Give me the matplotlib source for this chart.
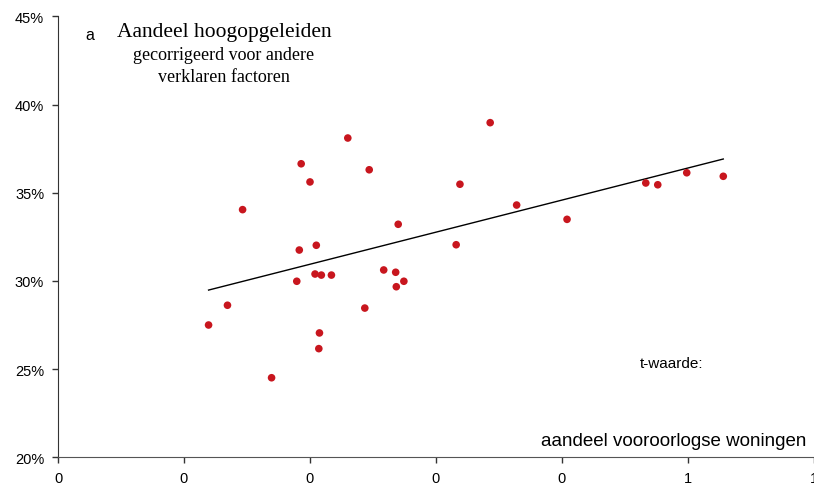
import matplotlib
matplotlib.use("Agg")
import matplotlib.pyplot as plt

# share of pre-war dwellings vs share of highly educated (corrected)
x_vals = [0.239, 0.269, 0.293, 0.339, 0.379, 0.383, 0.386, 0.400, 0.410, 0.408,
          0.418, 0.415, 0.414, 0.434, 0.460, 0.487, 0.494, 0.517, 0.536, 0.537,
          0.540, 0.549, 0.632, 0.638, 0.686, 0.728, 0.808, 0.933, 0.952, 0.998,
          1.056]
y_vals = [27.50, 28.62, 34.04, 24.51, 29.98, 31.75, 36.64, 35.61, 32.02, 30.39,
          30.33, 27.05, 26.16, 30.33, 38.10, 28.46, 36.30, 30.62, 30.49, 29.67,
          33.21, 29.98, 32.05, 35.48, 38.97, 34.30, 33.49, 35.55, 35.45, 36.13,
          35.93]

trend_x = [0.239, 1.056]
trend_y = [29.48, 36.91]

x_ticks = [0, 0.2, 0.4, 0.6, 0.8, 1.0, 1.2]
x_tick_labels = ["0", "0", "0", "0", "0", "1", "1"]
y_ticks = [20, 25, 30, 35, 40, 45]
y_tick_labels = ["20%", "25%", "30%", "35%", "40%", "45%"]

SANS = ["Liberation Sans", "DejaVu Sans"]
SERIF = ["Liberation Serif", "DejaVu Serif"]
RED = "#c8161e"

fig = plt.figure(figsize=(8.14, 4.89), dpi=100)
ax = fig.add_axes([58 / 814, 1 - 458.3 / 489, (814 - 58) / 814, (458.3 - 17.3) / 489])

ax.plot(trend_x, trend_y, color="black", linewidth=1.0, zorder=2)
ax.scatter(x_vals, y_vals, s=30, color=RED, edgecolors="none", zorder=3)

ax.set_xlim(0, 1.2)
ax.set_ylim(20, 45)
ax.set_xticks(x_ticks)
ax.set_xticklabels(x_tick_labels, family=SANS, fontsize=10.5)
ax.set_yticks(y_ticks)
ax.set_yticklabels(y_tick_labels, family=SANS, fontsize=10.5)

ax.spines["top"].set_visible(False)
ax.spines["right"].set_visible(False)
ax.spines["left"].set_color("#333333")
ax.spines["bottom"].set_color("#555555")
ax.tick_params(axis="both", direction="out", length=4, width=1, color="#333333", pad=6)

fig.text(90 / 814, 1 - 36 / 489, "a", family=SANS, fontsize=11.5, ha="center", va="center")
fig.text(224 / 814, 1 - 33 / 489, "Aandeel hoogopgeleiden", family=SERIF, fontsize=15.5,
         ha="center", va="center")
fig.text(224 / 814, 1 - 56 / 489, "gecorrigeerd voor andere", family=SERIF, fontsize=13,
         ha="center", va="center")
fig.text(224 / 814, 1 - 78 / 489, "verklaren factoren", family=SERIF, fontsize=13,
         ha="center", va="center")
fig.text(672 / 814, 1 - 364 / 489, "t-waarde:", family=SANS, fontsize=11,
         ha="center", va="center")
fig.text(806 / 814, 1 - 442 / 489, "aandeel vooroorlogse woningen", family=SANS, fontsize=13.5,
         ha="right", va="center")

fig.savefig("out.png", dpi=100)
